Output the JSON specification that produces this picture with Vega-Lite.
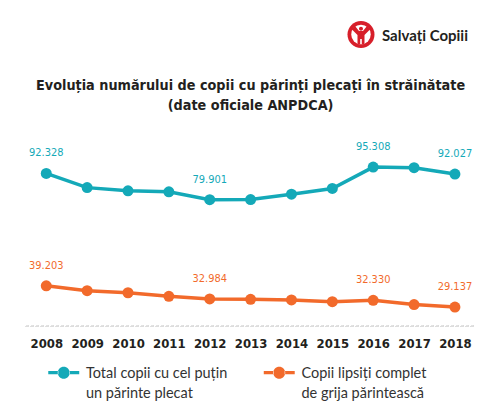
{
  "$schema": "https://vega.github.io/schema/vega-lite/v6.json",
  "background": "white",
  "padding": {"left": 5.4, "right": 0, "top": 0, "bottom": 0},
  "spacing": 30,
  "config": {
    "view": {"stroke": null},
    "style": {"guide-label": {"lineHeight": 20}}
  },
  "datasets": {
    "series": [
      {"year": 2008, "series": "total", "value": 92.328, "labelled": true},
      {"year": 2009, "series": "total", "value": 85.6, "labelled": false},
      {"year": 2010, "series": "total", "value": 84.1, "labelled": false},
      {"year": 2011, "series": "total", "value": 83.6, "labelled": false},
      {"year": 2012, "series": "total", "value": 79.901, "labelled": true},
      {"year": 2013, "series": "total", "value": 79.95, "labelled": false},
      {"year": 2014, "series": "total", "value": 82.5, "labelled": false},
      {"year": 2015, "series": "total", "value": 85.2, "labelled": false},
      {"year": 2016, "series": "total", "value": 95.308, "labelled": true},
      {"year": 2017, "series": "total", "value": 95.0, "labelled": false},
      {"year": 2018, "series": "total", "value": 92.027, "labelled": true},
      {"year": 2008, "series": "lipsiti", "value": 39.203, "labelled": true},
      {"year": 2009, "series": "lipsiti", "value": 36.9, "labelled": false},
      {"year": 2010, "series": "lipsiti", "value": 35.9, "labelled": false},
      {"year": 2011, "series": "lipsiti", "value": 34.2, "labelled": false},
      {"year": 2012, "series": "lipsiti", "value": 32.984, "labelled": true},
      {"year": 2013, "series": "lipsiti", "value": 32.8, "labelled": false},
      {"year": 2014, "series": "lipsiti", "value": 32.5, "labelled": false},
      {"year": 2015, "series": "lipsiti", "value": 31.7, "labelled": false},
      {"year": 2016, "series": "lipsiti", "value": 32.33, "labelled": true},
      {"year": 2017, "series": "lipsiti", "value": 30.3, "labelled": false},
      {"year": 2018, "series": "lipsiti", "value": 29.137, "labelled": true}
    ],
    "logo": [{"org": "Salvați Copiii"}]
  },
  "vconcat": [
    {
      "width": 490,
      "height": 45,
      "data": {"name": "logo"},
      "layer": [
        {"mark": {"type": "point", "shape": "circle", "filled": true, "opacity": 1, "color": "#d71f2a", "size": 729, "x": 355.6, "y": 34.5}, "encoding": {}},
        {"mark": {"type": "point", "shape": "circle", "filled": true, "opacity": 1, "color": "white", "size": 380, "x": 355.6, "y": 34.5}, "encoding": {}},
        {"mark": {"type": "point", "shape": "M-0.95,-0.55 L-0.6,-0.85 L-0.2,-0.35 H0.2 L0.6,-0.85 L0.95,-0.55 L0.35,0.05 V0.95 H0.08 V0.45 H-0.08 V0.95 H-0.35 V0.05 Z M0,-0.78 A0.2,0.2 0 1,0 0,-0.38 A0.2,0.2 0 1,0 0,-0.78 Z", "filled": true, "opacity": 1, "color": "#d71f2a", "size": 400, "x": 355.6, "y": 34.5}, "encoding": {}},
        {"mark": {"type": "text", "font": "Lato", "fontWeight": "bold", "fontSize": 15, "color": "#231f20", "align": "left", "baseline": "middle", "x": 376.6, "y": 36}, "encoding": {"text": {"field": "org"}}}
      ]
    },
    {
      "width": 490.4,
      "height": 190.4,
      "data": {"name": "series"},
      "title": {
        "text": ["Evoluția numărului de copii cu părinți plecați în străinătate", "(date oficiale ANPDCA)"],
        "font": "DejaVu Sans Condensed",
        "fontSize": 14.3,
        "fontWeight": "bold",
        "color": "#231f20",
        "lineHeight": 20,
        "anchor": "middle",
        "offset": 23
      },
      "encoding": {
        "x": {
          "field": "year", "type": "quantitative",
          "scale": {"domain": [2007, 2019], "nice": false, "zero": false},
          "axis": {
            "values": [2008, 2009, 2010, 2011, 2012, 2013, 2014, 2015, 2016, 2017, 2018],
            "format": "d", "title": null, "domain": false, "ticks": false, "grid": false,
            "labelFont": "DejaVu Sans Condensed",
            "labelFontWeight": "bold", "labelFontSize": 13, "labelColor": "#231f20",
            "labelPadding": 11.6, "labelFlush": false, "labelOverlap": false
          }
        },
        "y": {
          "field": "value", "type": "quantitative",
          "scale": {"domain": [20, 110], "nice": false, "zero": false},
          "axis": null
        },
        "color": {
          "field": "series", "type": "nominal",
          "scale": {"domain": ["total", "lipsiti"], "range": ["#14a9b8", "#f26a2b"]},
          "legend": {
            "title": null,
            "orient": "none",
            "legendX": 51.1,
            "legendY": 370.7,
            "padding": 0,
            "direction": "horizontal",
            "columns": 2,
            "columnPadding": 34.5,
            "symbolType": "M-2.58,-1.17 H-0.9 V-0.63 H-2.58 Z M0.9,-1.17 H2.58 V-0.63 H0.9 Z M-1,-0.9 A1,1 0 1,0 1,-0.9 A1,1 0 1,0 -1,-0.9 Z",
            "symbolSize": 144,
            "symbolStrokeWidth": 0,
            "symbolOpacity": 1,
            "labelOffset": 15,
            "labelFont": "Lato",
            "labelFontSize": 14.5,
            "labelColor": "#333333",
            "labelBaseline": "alphabetic",
            "labelLimit": 300,
            "labelExpr": "datum.value == 'total' ? ['Total copii cu cel puțin', 'un părinte plecat'] : ['Copii lipsiți complet', 'de grija părintească']",
            "encode": {"labels": {"update": {"lineHeight": {"value": 20}}}}
          }
        }
      },
      "layer": [
        {
          "mark": {"type": "rule", "strokeDash": [3, 2], "color": "#dddddd", "strokeWidth": 1},
          "encoding": {
            "x": {"datum": 2007.5},
            "x2": {"datum": 2018.5},
            "y": {"datum": 20},
            "color": {"value": "#dddddd"}
          }
        },
        {
          "mark": {"type": "line", "strokeWidth": 3.5},
          "encoding": {}
        },
        {
          "mark": {"type": "point", "filled": true, "opacity": 1, "size": 121},
          "encoding": {}
        },
        {
          "transform": [{"filter": "datum.labelled"}],
          "mark": {"type": "text", "font": "DejaVu Sans Condensed", "fontSize": 11, "dy": -20, "baseline": "middle", "align": "center"},
          "encoding": {
            "text": {"field": "value", "type": "quantitative", "format": ".3f"}
          }
        }
      ]
    }
  ]
}
